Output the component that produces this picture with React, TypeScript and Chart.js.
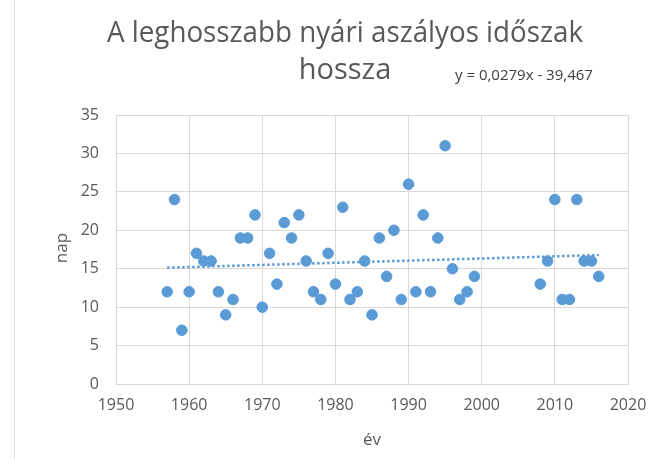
import React, { useEffect, useRef } from "react";
import { Chart, registerables } from "chart.js";

Chart.register(...registerables);

const years = [
  1957, 1958, 1959, 1960, 1961, 1962, 1963, 1964, 1965, 1966, 1967, 1968, 1969, 1970,
  1971, 1972, 1973, 1974, 1975, 1976, 1977, 1978, 1979, 1980, 1981, 1982, 1983, 1984,
  1985, 1986, 1987, 1988, 1989, 1990, 1991, 1992, 1993, 1994, 1995, 1996, 1997, 1998,
  1999, 2008, 2009, 2010, 2011, 2012, 2013, 2014, 2015, 2016,
];
const days = [
  12, 24, 7, 12, 17, 16, 16, 12, 9, 11, 19, 19, 22, 10,
  17, 13, 21, 19, 22, 16, 12, 11, 17, 13, 23, 11, 12, 16,
  9, 19, 14, 20, 11, 26, 12, 22, 12, 19, 31, 15, 11, 12,
  14, 13, 16, 24, 11, 11, 24, 16, 16, 14,
];
const trendSlope = 0.0279;
const trendIntercept = -39.467;
const trendYears = [1957, 2016];

const titleLines = ["A leghosszabb nyári aszályos időszak", "hossza"];
const equationText = "y = 0,0279x - 39,467";
const xAxisTitle = "év";
const yAxisTitle = "nap";

const FONT = "'Open Sans', 'Liberation Sans', sans-serif";

export default function App() {
  const ref = useRef<HTMLCanvasElement | null>(null);
  useEffect(() => {
    document.body.style.margin = "0";
    const canvas = ref.current!;
    const textPlugin = {
      id: "texts",
      afterDraw(chart: any) {
        const ctx = chart.ctx;
        ctx.save();
        ctx.strokeStyle = "#e3e3e3";
        ctx.lineWidth = 1;
        ctx.beginPath();
        ctx.moveTo(14.5, 0);
        ctx.lineTo(14.5, 459);
        ctx.stroke();
        ctx.fillStyle = "#595959";
        ctx.textAlign = "center";
        ctx.textBaseline = "middle";
        ctx.font = `29px ${FONT}`;
        ctx.fillText(titleLines[0], 345, 34, 476);
        ctx.fillText(titleLines[1], 345, 71, 95);
        ctx.font = `15px ${FONT}`;
        ctx.fillStyle = "#404040";
        ctx.textAlign = "left";
        ctx.fillText(equationText, 455, 76, 142);
        ctx.fillStyle = "#595959";
        ctx.font = `17px ${FONT}`;
        ctx.textAlign = "center";
        ctx.fillText(xAxisTitle, 372, 440);
        ctx.translate(62, 248);
        ctx.rotate(-Math.PI / 2);
        ctx.fillText(yAxisTitle, 0, 0);
        ctx.restore();
      },
    };
    const chart = new Chart(canvas, {
      type: "scatter",
      data: {
        datasets: [
          {
            label: "nap",
            data: years.map((y, i) => ({ x: y, y: days[i] })),
            backgroundColor: "#5b9bd5",
            borderColor: "#5b9bd5",
            pointRadius: 5.3,
            pointHoverRadius: 5.3,
            order: 2,
          },
          {
            label: "trend",
            type: "line",
            data: trendYears.map((y) => ({ x: y, y: trendSlope * y + trendIntercept })),
            borderColor: "#5b9bd5",
            borderWidth: 2.5,
            borderDash: [2.5, 2.5],
            pointRadius: 0,
            fill: false,
            order: 1,
          },
        ],
      },
      plugins: [textPlugin],
      options: {
        animation: false,
        responsive: false,
        layout: { padding: { top: 115, right: 40, left: 0, bottom: 0 } },
        plugins: { legend: { display: false }, tooltip: { enabled: false }, title: { display: false } },
        scales: {
          x: {
            type: "linear",
            min: 1950,
            max: 2020,
            afterFit: (s: any) => { s.height = 459 - 384; },
            ticks: {
              stepSize: 10,
              color: "#595959",
              font: { family: FONT, size: 16 },
              padding: 12,
              callback: (v: any) => String(v),
            },
            grid: { color: "#d9d9d9", drawTicks: false },
            border: { color: "#d9d9d9" },
          },
          y: {
            min: 0,
            max: 35,
            afterFit: (s: any) => { s.width = 116; },
            ticks: { stepSize: 5, color: "#595959", font: { family: FONT, size: 16 }, padding: 17 },
            grid: { color: "#d9d9d9", drawTicks: false },
            border: { color: "#d9d9d9" },
          },
        },
      },
    } as any);
    return () => chart.destroy();
  }, []);
  return (
    <div style={{ width: 668, height: 459, background: "#fff" }}>
      <canvas ref={ref} width={668} height={459} style={{ display: "block" }} />
    </div>
  );
}
